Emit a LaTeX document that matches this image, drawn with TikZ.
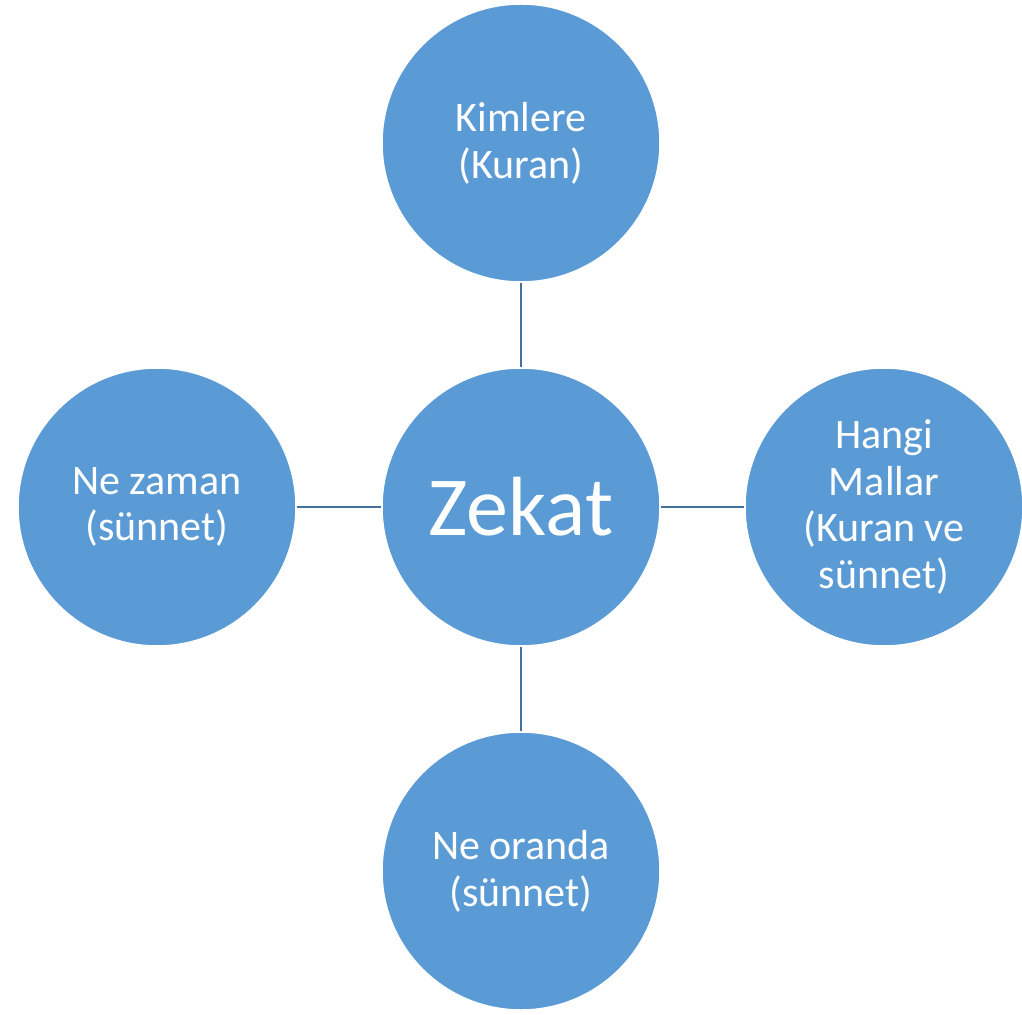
\documentclass[tikz,border=0pt]{standalone}
\usepackage{fontspec}
\setmainfont{Carlito}
\definecolor{zblue}{HTML}{5B9BD5}
\definecolor{zline}{HTML}{41719C}
\tikzstyle{topic}=[circle, fill=zblue, draw=white, line width=1.5pt, minimum size=278pt, inner sep=0pt, text=white, align=center, font=\fontsize{42}{46.7}\selectfont]
\tikzstyle{hub}=[topic, font=\fontsize{84}{100}\selectfont]
\tikzstyle{link}=[draw=zline, line width=2.5pt]

\begin{document}
\begin{tikzpicture}[x=1pt, y=1pt]
    \useasboundingbox (-521,-507) rectangle (501,507);
    \node[hub]   (zekat)   at (0,    0)    {Zekat};
    \node[topic] (kimlere) at (0,    364)  {Kimlere\\(Kuran)};
    \node[topic] (zaman)   at (-364, 0)    {Ne zaman\\(sünnet)};
    \node[topic] (mallar)  at (363,  0)    {Hangi\\Mallar\\(Kuran ve\\sünnet)};
    \node[topic] (oran)    at (0,    -364) {Ne oranda\\(sünnet)};
    \draw[link] (kimlere) -- (zekat);
    \draw[link] (zaman)   -- (zekat);
    \draw[link] (mallar)  -- (zekat);
    \draw[link] (oran)    -- (zekat);
\end{tikzpicture}
\end{document}
